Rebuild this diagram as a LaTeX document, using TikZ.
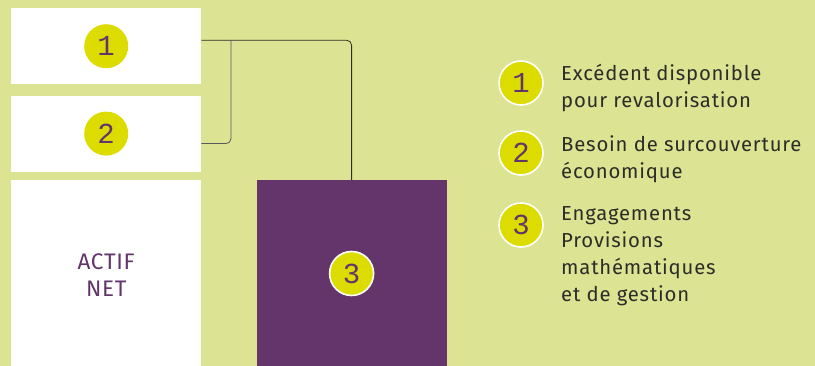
\documentclass[tikz,border=0pt]{standalone}
\usepackage{fontspec}
\setmainfont{Fira Sans}[LetterSpace=4]
\newfontfamily\actiffont{Fira Sans}[LetterSpace=3]
\newfontfamily\digitfont{Liberation Mono}
\usepackage{tikz}
\usetikzlibrary{positioning}
\definecolor{bgcolor}{RGB}{220,227,147}
\definecolor{actifcolor}{RGB}{99,53,106}
\definecolor{markcolor}{RGB}{221,220,0}
\definecolor{textcolor}{RGB}{45,45,40}
\newcommand{\markFmt}[1]{{\digitfont\fontsize{29}{29}\selectfont\color{actifcolor}#1}}

\begin{document}
\begin{tikzpicture}[x=1pt, y=-1pt,
			block/.style={fill=white, minimum width=190pt, inner sep=0pt},
			marker/.style={circle, fill=markcolor, draw=white, line width=1.6pt, minimum size=44pt, inner sep=0pt},
			legend/.style={anchor=north west, align=left, inner sep=0pt, text=textcolor, font=\fontsize{20.3}{27}\selectfont},
			link/.style={line width=0.8pt, rounded corners=5pt},
		]

		\fill[bgcolor] (0,0) rectangle (815,366);
		\useasboundingbox (0,0) rectangle (815,366);

		\node[block, minimum height=76pt, anchor=north west] (exc) at (11,8) {};
		\node[block, minimum height=76pt] (bes) [below=11pt of exc] {};
		\node[block, minimum height=187pt] (actif) [below=8pt of bes] {};
		\node[fill=actifcolor, minimum width=190pt, minimum height=187pt, inner sep=0pt] (eng) [right=55pt of actif] {};

		\node[align=center, text=actifcolor, font=\actiffont\fontsize{22.5}{27}\selectfont] (actifLabel) at ([yshift=-2pt]actif.center) {ACTIF\\NET};
		\node[marker, draw=none] (m1) at (exc) {\markFmt{1}};
		\node[marker, draw=none] (m2) at (bes) {\markFmt{2}};
		\node[marker] (m3) at (eng) {\markFmt{3}};

		\coordinate (joint) at (231,40);
		\draw[link, textcolor] ([yshift=6pt]exc.east) -| (eng.north);
		\draw[link, gray!70!black] ([yshift=-10pt]bes.east) -| (joint);

		% legend
		\node[marker] (l1) at (521,83) {\markFmt{1}};
		\node[marker] (l2) at (521,153) {\markFmt{2}};
		\node[marker] (l3) at (521,225) {\markFmt{3}};
		\node[legend] (t1) at (561,64) {Excédent disponible\\pour revalorisation};
		\node[legend] (t2) at (561,135) {Besoin de surcouverture\\économique};
		\node[legend] (t3) at (561,206) {Engagements\\Provisions\\mathématiques\\et de gestion};

\end{tikzpicture}
\end{document}
